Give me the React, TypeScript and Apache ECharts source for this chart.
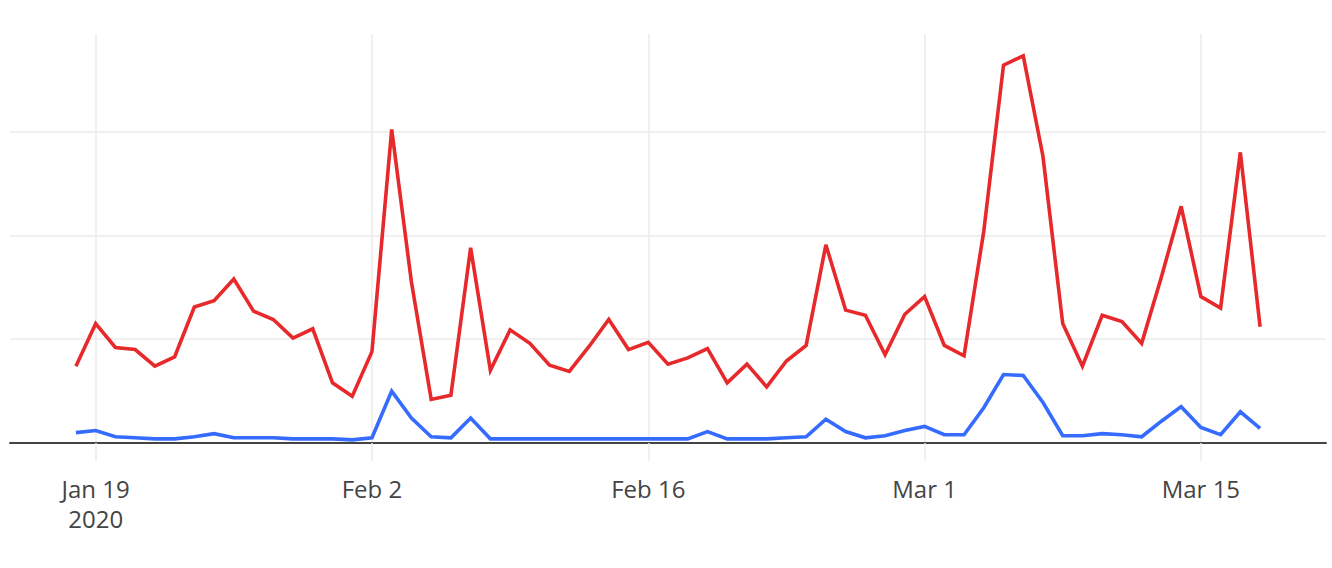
import React, { useEffect, useRef } from "react";
import * as echarts from "echarts";

// Day index 0 = Jan 18, 2020 (daily points through Mar 18, 2020)
const redValues = [
  74, 115, 92, 90, 74, 83, 131, 137, 158, 127, 119, 101, 110, 58, 45, 88, 302, 155, 42, 46,
  188, 70, 109, 96, 75, 69, 93, 119, 90, 97, 76, 82, 91, 58, 76, 54, 79, 94, 191, 128,
  123, 85, 124, 141, 94, 84, 204, 364, 373, 276, 115, 74, 123, 117, 96, 160, 228, 141, 130, 280,
  112,
];
const blueValues = [
  10, 12, 6, 5, 4, 4, 6, 9, 5, 5, 5, 4, 4, 4, 3, 5, 50, 24, 6, 5,
  24, 4, 4, 4, 4, 4, 4, 4, 4, 4, 4, 4, 11, 4, 4, 4, 5, 6, 23, 11,
  5, 7, 12, 16, 8, 8, 34, 66, 65, 39, 7, 7, 9, 8, 6, 21, 35, 15, 8, 30,
  14,
];
const tickIndices = [1, 15, 29, 43, 57];
const tickLabels = ["Jan 19\n2020", "Feb 2", "Feb 16", "Mar 1", "Mar 15"];

export default function App() {
  const ref = useRef<HTMLDivElement>(null);
  useEffect(() => {
    if (!ref.current) return;
    const chart = echarts.init(ref.current, null, { renderer: "svg" });
    const toPairs = (arr: number[]) => arr.map((v, i) => [i, v]);
    chart.setOption({
      animation: false,
      grid: { left: 10, right: 6, top: 34, bottom: 125, containLabel: false },
      xAxis: {
        type: "value",
        min: -3.34,
        max: 63.34,
        axisLine: { show: true, onZero: true, lineStyle: { color: "#444", width: 2 } },
        axisTick: {
          show: true,
          length: 18,
          customValues: tickIndices,
          lineStyle: { color: "#ebebeb", width: 1.5 },
        },
        splitLine: { show: true, lineStyle: { color: "#ebebeb", width: 1.5 } },
        axisLabel: {
          customValues: tickIndices,
          margin: 30,
          color: "#444",
          fontFamily: "Open Sans",
          fontSize: 24,
          lineHeight: 30,
          formatter: (v: number) => {
            const k = tickIndices.indexOf(Math.round(v));
            return k >= 0 ? tickLabels[k] : "";
          },
        },
      },
      yAxis: {
        type: "value",
        min: 0,
        max: 394,
        interval: 100,
        axisLine: { show: false },
        axisTick: { show: false },
        axisLabel: { show: false },
        splitLine: {
          show: true,
          showMinLine: false,
          showMaxLine: false,
          lineStyle: { color: "#ebebeb", width: 1.5 },
        },
      },
      series: [
        {
          type: "line",
          data: toPairs(blueValues),
          showSymbol: false,
          symbol: "none",
          lineStyle: { color: "#356cff", width: 3.6, join: "miter" },
          z: 3,
        },
        {
          type: "line",
          data: toPairs(redValues),
          showSymbol: false,
          symbol: "none",
          lineStyle: { color: "#e8292b", width: 3.6, join: "miter" },
          z: 4,
        },
      ],
    });
    return () => chart.dispose();
  }, []);
  return (
    <div
      ref={ref}
      style={{ position: "absolute", left: 0, top: 0, width: 1332, height: 568, background: "#fff" }}
    />
  );
}
